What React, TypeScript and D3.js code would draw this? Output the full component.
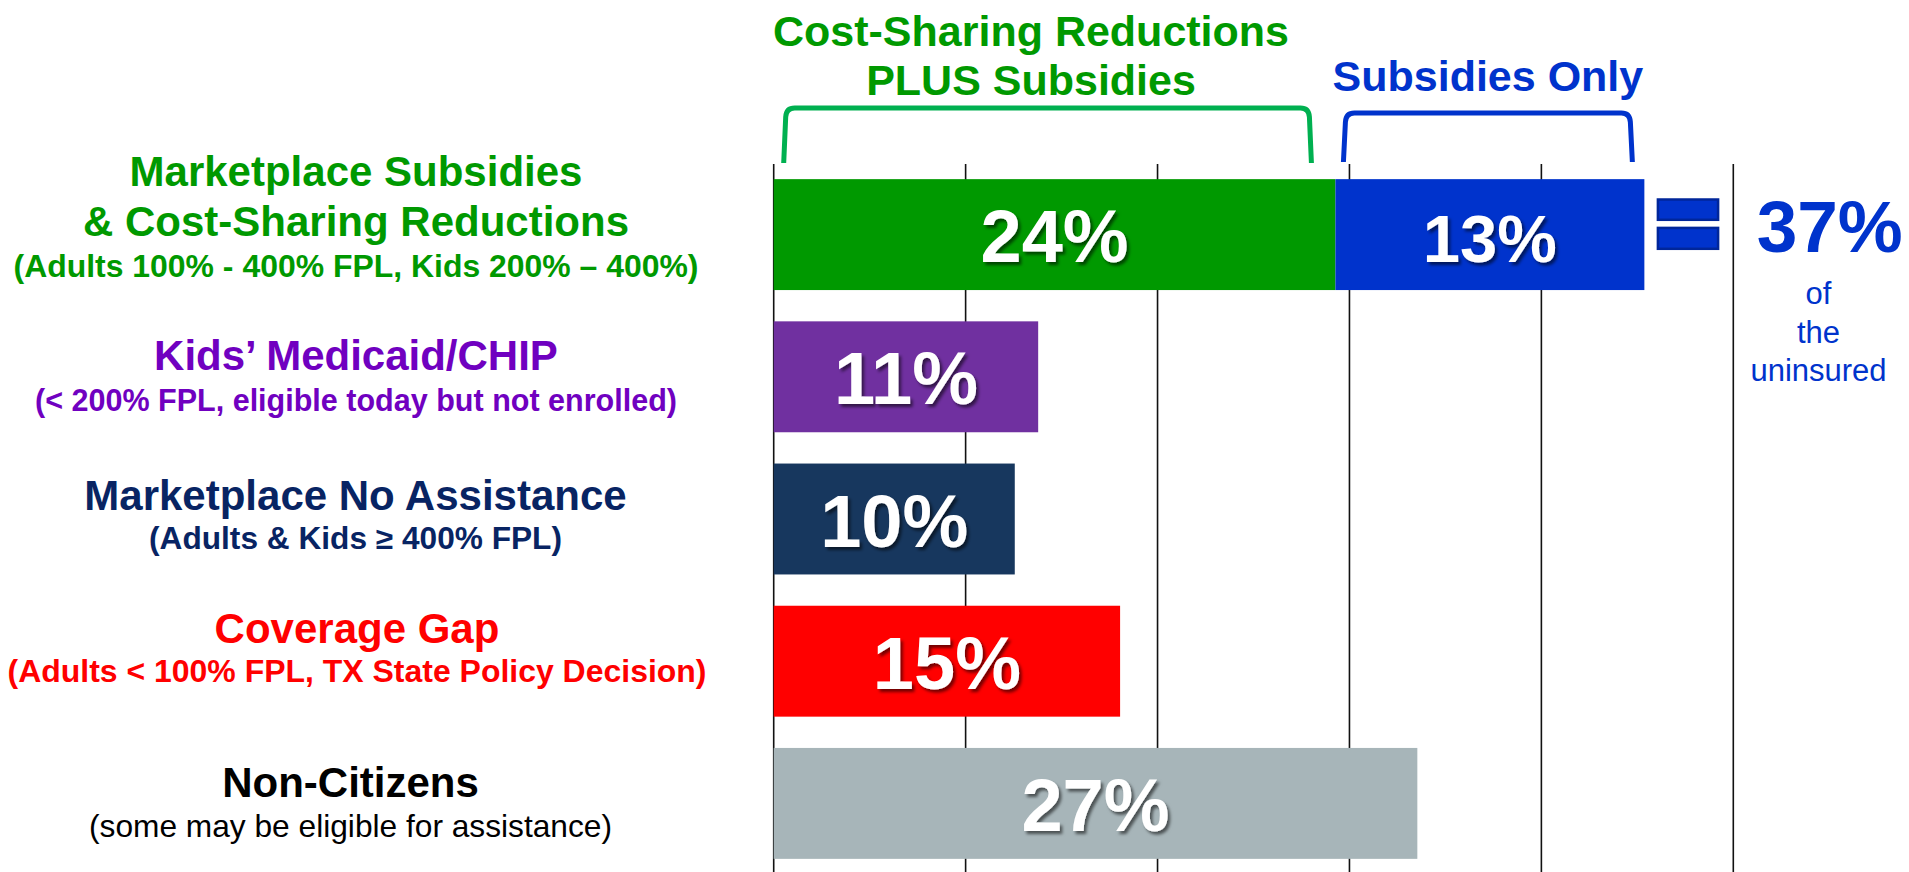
import React from "react";
import * as d3 from "d3";

// rows, top to bottom
const categories = ["Marketplace Subsidies", "Kids Medicaid/CHIP", "Marketplace No Assistance", "Coverage Gap", "Non-Citizens"];
const titleLines = [
  ["Marketplace Subsidies", "& Cost-Sharing Reductions"],
  ["Kids’ Medicaid/CHIP"],
  ["Marketplace No Assistance"],
  ["Coverage Gap"],
  ["Non-Citizens"],
];
const subtitles = [
  "(Adults 100% - 400% FPL, Kids 200% – 400%)",
  "(< 200% FPL, eligible today but not enrolled)",
  "(Adults & Kids ≥ 400% FPL)",
  "(Adults < 100% FPL, TX State Policy Decision)",
  "(some may be eligible for assistance)",
];

// share of the uninsured (%)
const firstSegment = [24.0, 11.3, 10.3, 14.8, 27.5];
const secondSegment = [13.2, 0, 0, 0, 0];
const firstLabels = ["24%", "11%", "10%", "15%", "27%"];
const secondLabels = ["13%", "", "", "", ""];

const gridTicks = [0, 8.2, 16.4, 24.6, 32.8, 41];

const bracketLabels = { csr: ["Cost-Sharing Reductions", "PLUS Subsidies"], subsidies: ["Subsidies Only"] };
const totalLabel = "37%";
const totalCaption = ["of", "the", "uninsured"];

const barColors = ["#009900", "#7030a0", "#17375e", "#ff0000", "#a7b5b9"];
const secondColor = "#0033cc";
const textColors = ["#009900", "#7000c0", "#082463", "#ff0000", "#000000"];

// label layout: baselines relative to row centre, centre x, subtitle widths
const titleOffsets = [[-48.7, 1.3], [-7], [-9.4], [-18], [-6.6]];
const subtitleOffsets = [42.3, 33.7, 29.6, 21, 33.4];
const labelCenters = [356, 356, 355.5, 357, 350.5];
const subtitleWidths = [685, 642, 413, 699, 523];

const W = 1909;
const H = 872;
const FONT = "'Liberation Sans', Arial, sans-serif";

export default function App() {
  const x = d3.scaleLinear().domain([0, 41]).range([773.7, 1733.3]);
  const y = d3.scaleBand<string>().domain(categories).range([163.5, 874.5]).paddingInner(0.22).paddingOuter(0.11);

  const cy = (i: number) => (y(categories[i]) as number) + y.bandwidth() / 2;

  // bracket path: two legs with rounded top corners
  const bracket = (x0: number, x1: number, top: number, bottom: number) => {
    const p = d3.path();
    p.moveTo(x0, bottom);
    p.lineTo(x0 + 2, top + 9);
    p.quadraticCurveTo(x0 + 2.5, top, x0 + 11, top);
    p.lineTo(x1 - 11, top);
    p.quadraticCurveTo(x1 - 2.5, top, x1 - 2, top + 9);
    p.lineTo(x1, bottom);
    return p.toString();
  };

  const split = x(firstSegment[0]);
  const total = x(firstSegment[0] + secondSegment[0]);

  return (
    <svg width={W} height={H} style={{ position: "absolute", left: 0, top: 0, display: "block", background: "#fff" }} fontFamily={FONT}>
      <defs>
        <filter id="shadow" x="-20%" y="-20%" width="140%" height="140%">
          <feDropShadow dx="2.5" dy="3" stdDeviation="1.8" floodColor="#000" floodOpacity="0.55" />
        </filter>
      </defs>

      {/* gridlines */}
      {gridTicks.map((t, i) => (
        <line key={i} x1={x(t)} x2={x(t)} y1={164} y2={H} stroke="#111" strokeWidth={1.6} />
      ))}

      {/* bars */}
      {categories.map((c, i) => (
        <g key={c}>
          <rect x={x(0)} y={y(c)} width={x(firstSegment[i]) - x(0)} height={y.bandwidth()} fill={barColors[i]} />
          {secondSegment[i] > 0 && (
            <rect x={x(firstSegment[i])} y={y(c)} width={x(firstSegment[i] + secondSegment[i]) - x(firstSegment[i])} height={y.bandwidth()} fill={secondColor} />
          )}
          <text x={(x(0) + x(firstSegment[i])) / 2} y={cy(i) + 27.5} textAnchor="middle" fontSize={74} fontWeight="bold" fill="#fff" filter="url(#shadow)">
            {firstLabels[i]}
          </text>
          {secondSegment[i] > 0 && (
            <text x={(x(firstSegment[i]) + x(firstSegment[i] + secondSegment[i])) / 2} y={cy(i) + 27.3} textAnchor="middle" fontSize={67} fontWeight="bold" fill="#fff" filter="url(#shadow)">
              {secondLabels[i]}
            </text>
          )}
        </g>
      ))}

      {/* row labels */}
      {categories.map((c, i) => (
        <g key={"l" + c} textAnchor="middle">
          {titleLines[i].map((line, j) => (
            <text key={j} x={labelCenters[i]} y={cy(i) + titleOffsets[i][j]} fontSize={42} fontWeight="bold" fill={textColors[i]}>
              {line}
            </text>
          ))}
          <text
            x={labelCenters[i]}
            y={cy(i) + subtitleOffsets[i]}
            fontSize={i === 4 ? 31.5 : 30.5}
            fontWeight={i === 4 ? "normal" : "bold"}
            fill={textColors[i]}
            textLength={subtitleWidths[i]}
            lengthAdjust="spacingAndGlyphs"
          >
            {subtitles[i]}
          </text>
        </g>
      ))}

      {/* brackets */}
      <path d={bracket(x(0) + 10, split - 24, 108, 163)} fill="none" stroke="#00b050" strokeWidth={5} />
      <path d={bracket(split + 8, total - 12, 113, 162)} fill="none" stroke="#0033cc" strokeWidth={5} />
      <g textAnchor="middle" fontSize={43} fontWeight="bold">
        <text x={1031} y={45.7} fill="#009900">{bracketLabels.csr[0]}</text>
        <text x={1031} y={95} fill="#009900">{bracketLabels.csr[1]}</text>
        <text x={(split + 8 + total - 12) / 2} y={90.5} fill="#0033cc">{bracketLabels.subsidies[0]}</text>
      </g>

      {/* equals sign and total */}
      <rect x={1657.9} y={199.5} width={60.2} height={20.3} fill="#0033cc" stroke="#00269a" strokeWidth={2.5} />
      <rect x={1657.9} y={227.9} width={60.2} height={20.9} fill="#0033cc" stroke="#00269a" strokeWidth={2.5} />
      <text x={1829.7} y={251.7} textAnchor="middle" fontSize={73} fontWeight="bold" fill="#0033cc">{totalLabel}</text>
      {totalCaption.map((t, i) => (
        <text key={t} x={1818.5} y={304.3 + i * 38.2} textAnchor="middle" fontSize={31} fill="#0033cc">{t}</text>
      ))}
    </svg>
  );
}
